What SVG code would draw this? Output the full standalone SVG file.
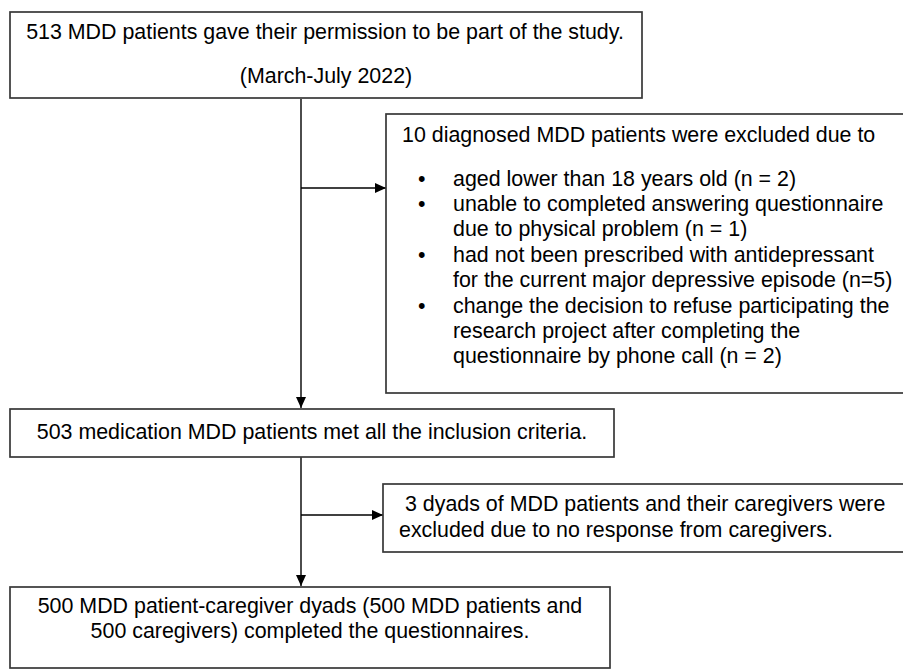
<svg xmlns="http://www.w3.org/2000/svg" width="903" height="670" viewBox="0 0 903 670">
<style>
.box{fill:#fff;stroke:#383838;stroke-width:1.7}
.t{font-family:"Liberation Sans",Arial,sans-serif;font-size:21.4px;fill:#000}
.c{text-anchor:middle}
.ln{stroke:#000;stroke-width:1.4;fill:none}
</style>
<defs>
<marker id="ah" markerWidth="11" markerHeight="10" refX="11" refY="5" orient="auto" markerUnits="userSpaceOnUse">
<path d="M0,0 L11,5 L0,10 Z" fill="#000"/>
</marker>
</defs>
<rect width="903" height="670" fill="#fff"/>
<g id="connectors">
<path class="ln" d="M301,99 V408" marker-end="url(#ah)"/>
<path class="ln" d="M301,188 H386" marker-end="url(#ah)"/>
<path class="ln" d="M301,457 V586" marker-end="url(#ah)"/>
<path class="ln" d="M301,515 H383" marker-end="url(#ah)"/>
</g>
<g id="n1">
<rect class="box" x="10" y="12" width="632" height="86"/>
<text class="t c" x="325" y="39">513 MDD patients gave their permission to be part of the study.</text>
<text class="t c" x="326" y="83">(March-July 2022)</text>
</g>
<g id="n2">
<rect class="box" x="386" y="114" width="530" height="279"/>
<text class="t" x="402" y="142">10 diagnosed MDD patients were excluded due to</text>
<g class="t">
<text x="418" y="186">•</text><text x="453" y="186">aged lower than 18 years old (n = 2)</text>
<text x="418" y="211">•</text><text x="453" y="211">unable to completed answering questionnaire</text>
<text x="453" y="236">due to physical problem (n = 1)</text>
<text x="418" y="262">•</text><text x="453" y="262">had not been prescribed with antidepressant</text>
<text x="453" y="287">for the current major depressive episode (n=5)</text>
<text x="418" y="313">•</text><text x="453" y="313">change the decision to refuse participating the</text>
<text x="453" y="338">research project after completing the</text>
<text x="453" y="363">questionnaire by phone call (n = 2)</text>
</g>
</g>
<g id="n3">
<rect class="box" x="10" y="409" width="604" height="48"/>
<text class="t c" x="312" y="439">503 medication MDD patients met all the inclusion criteria.</text>
</g>
<g id="n4">
<rect class="box" x="383" y="484" width="530" height="68"/>
<text class="t" x="405" y="511">3 dyads of MDD patients and their caregivers were</text>
<text class="t" x="399" y="537">excluded due to no response from caregivers.</text>
</g>
<g id="n5">
<rect class="box" x="10" y="587" width="600" height="81"/>
<text class="t c" x="310" y="613">500 MDD patient-caregiver dyads (500 MDD patients and</text>
<text class="t c" x="310" y="638">500 caregivers) completed the questionnaires.</text>
</g>
</svg>
